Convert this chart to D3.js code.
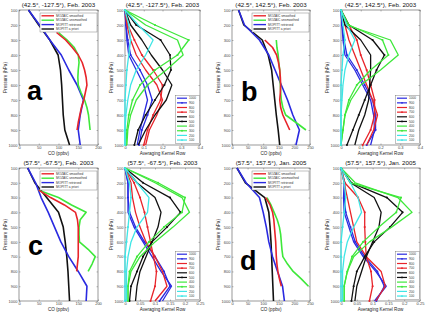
<!DOCTYPE html>
<html><head><meta charset="utf-8">
<script src="https://cdn.jsdelivr.net/npm/d3@7"></script>
<style>html,body{margin:0;padding:0;background:#fff;} svg{display:block;}</style>
</head><body><svg id="chart" width="427" height="317"></svg>
<script>
// ---------------- DATA ----------------
const pressureLevels = [100, 200, 300, 400, 500, 600, 700, 800, 900, 1000];
const titles = ["(42.5°, -127.5°), Feb. 2003", "(42.5°, 142.5°), Feb. 2003", "(57.5°, -67.5°), Feb. 2003", "(57.5°, 157.5°), Jan. 2005"];
const panelLetters = ["a", "b", "c", "d"];
const coLegendLabels = ["MOZAIC smoothed", "MOZAIC unsmoothed", "MOPITT retrieved", "MOPITT a priori"];
const akRowLabels = ["1000", "900", "800", "700", "600", "500", "400", "300", "200", "100"];
const coTicks200 = [0, 50, 100, 150, 200];
const coTicks250 = [0, 50, 100, 150, 200, 250];
const akTicks04 = [0, 0.1, 0.2, 0.3, 0.4];
const akTicks025 = [0, 0.05, 0.1, 0.15, 0.2, 0.25];

// Panel a CO (ppbv)
const aprioriA   = [24, 50, 78, 99, 105, 108, 110, 112, 116, 128];
const retrievedA = [24, 52, 78, 107, 126, 147, 163, 155, 150, 155];
const mozPresA   = [250, 300, 350, 400, 450, 500, 550, 600, 650, 700, 750, 800, 850, 900];
const smoothedA  = [95, 118, 135, 150, 160, 166, 170, 172, 168, 164, 158, 154, 150, 147];
const unsmoothedA= [100, 122, 140, 150, 152, 150, 149, 150, 157, 166, 172, 176, 178, 180];
// Panel b CO
const aprioriB   = [21, 38, 97, 116, 127, 132, 137, 142, 148, 153];
const retrievedB = [21, 40, 88, 118, 138, 158, 178, 195, 216, 205];
const mozPresB   = [300, 350, 400, 450, 500, 550, 600, 650, 700, 750, 800, 850, 900];
const smoothedB  = [105, 130, 143, 149, 153, 155, 156, 155, 153, 156, 163, 174, 185];
const unsmoothedB= [142, 144, 148, 150, 153, 154, 155, 156, 158, 163, 172, 205, 237];
// Panel c CO
const aprioriC   = [22, 40, 70, 100, 112, 117, 121, 124, 126, 128];
const retrievedC = [22, 42, 56, 74, 90, 106, 126, 150, 172, 170];
const mozPresC   = [250, 300, 350, 400, 450, 500, 550, 600, 650, 700, 750, 800];
const smoothedC  = [50, 80, 115, 143, 148, 150, 150, 150, 150, 150, 148, 146];
const unsmoothedC= [50, 100, 133, 170, 155, 152, 152, 153, 175, 193, 185, 175];
// Panel d CO
const aprioriD   = [16, 43, 105, 118, 122, 125, 127, 129, 131, 133];
const retrievedD = [16, 45, 88, 100, 110, 118, 130, 146, 162, 168];
const mozPresD   = [300, 350, 400, 450, 500, 550, 600, 650, 700, 750, 800, 850, 900];
const smoothedD  = [108, 122, 130, 134, 136, 138, 140, 141, 142, 144, 147, 152, 158];
const unsmoothedD= [112, 125, 135, 145, 152, 156, 158, 160, 163, 178, 196, 222, 245];

// Averaging kernel rows (values at pressureLevels), row order = akRowLabels
const akA = [
  [0, 0.005, 0.01, 0.02, 0.06, 0.10, 0.12, 0.10, 0.08, 0.065],
  [0, 0.005, 0.015, 0.03, 0.08, 0.12, 0.145, 0.12, 0.09, 0.075],
  [0, 0.01, 0.03, 0.06, 0.11, 0.17, 0.20, 0.17, 0.13, 0.11],
  [0, 0.015, 0.05, 0.09, 0.15, 0.20, 0.19, 0.15, 0.12, 0.10],
  [0, 0.03, 0.09, 0.14, 0.20, 0.25, 0.22, 0.16, 0.11, 0.07],
  [0, 0.06, 0.19, 0.24, 0.245, 0.21, 0.16, 0.11, 0.07, 0.05],
  [0, 0.11, 0.28, 0.31, 0.22, 0.12, 0.06, 0.03, 0.015, 0.01],
  [0, 0.16, 0.34, 0.28, 0.16, 0.08, 0.04, 0.02, 0.01, 0.005],
  [0, 0.07, 0.15, 0.11, 0.06, 0.03, 0.015, 0.005, 0, 0],
  [0, 0.02, 0.03, 0.02, 0.01, 0.005, 0, 0, 0, 0]
];
const akB = [
  [0, 0.005, 0.01, 0.02, 0.07, 0.11, 0.15, 0.165, 0.17, 0.15],
  [0, 0.005, 0.015, 0.03, 0.08, 0.12, 0.16, 0.175, 0.175, 0.13],
  [0, 0.02, 0.04, 0.07, 0.10, 0.13, 0.16, 0.185, 0.165, 0.13],
  [0, 0.04, 0.08, 0.10, 0.13, 0.15, 0.17, 0.17, 0.15, 0.11],
  [0, 0.02, 0.10, 0.15, 0.15, 0.145, 0.14, 0.12, 0.09, 0.07],
  [0, 0.04, 0.16, 0.22, 0.18, 0.15, 0.12, 0.09, 0.06, 0.03],
  [0, 0.03, 0.25, 0.29, 0.20, 0.10, 0.05, 0.02, 0.01, 0],
  [0, 0.04, 0.21, 0.24, 0.15, 0.08, 0.04, 0.02, 0.01, 0],
  [0, 0.03, 0.07, 0.04, 0.02, 0.01, 0.005, 0, 0, 0],
  [0, 0.01, 0.02, 0.01, 0.005, 0, 0, 0, 0, 0]
];
const akC = [
  [0, 0.01, 0.01, 0.01, 0.03, 0.06, 0.09, 0.12, 0.155, 0.125],
  [0, 0.01, 0.01, 0.015, 0.035, 0.065, 0.10, 0.13, 0.15, 0.115],
  [0, 0.02, 0.025, 0.035, 0.05, 0.07, 0.10, 0.125, 0.14, 0.10],
  [0, 0.03, 0.05, 0.065, 0.075, 0.085, 0.095, 0.105, 0.10, 0.085],
  [0, 0.04, 0.10, 0.12, 0.11, 0.09, 0.07, 0.05, 0.04, 0.035],
  [0, 0.06, 0.15, 0.185, 0.14, 0.09, 0.06, 0.04, 0.02, 0.015],
  [0, 0.10, 0.19, 0.215, 0.16, 0.10, 0.05, 0.02, 0.01, 0.01],
  [0, 0.11, 0.20, 0.19, 0.13, 0.08, 0.04, 0.015, 0.01, 0.01],
  [0, 0.04, 0.08, 0.075, 0.04, 0.02, 0.01, 0.005, 0.005, 0.005],
  [0, 0.015, 0.02, 0.015, 0.01, 0.005, 0, 0, 0, 0]
];
const akD = [
  [0, 0.01, 0.008, 0.01, 0.025, 0.04, 0.07, 0.11, 0.143, 0.106],
  [0, 0.012, 0.01, 0.015, 0.03, 0.045, 0.075, 0.115, 0.137, 0.112],
  [0, 0.01, 0.02, 0.03, 0.04, 0.05, 0.08, 0.127, 0.14, 0.11],
  [0, 0.012, 0.054, 0.075, 0.075, 0.077, 0.08, 0.095, 0.10, 0.09],
  [0, 0.03, 0.105, 0.127, 0.12, 0.10, 0.08, 0.065, 0.05, 0.044],
  [0, 0.033, 0.145, 0.195, 0.155, 0.105, 0.075, 0.05, 0.04, 0.033],
  [0, 0.045, 0.18, 0.225, 0.16, 0.09, 0.04, 0.02, 0.01, 0.01],
  [0, 0.03, 0.19, 0.175, 0.12, 0.07, 0.035, 0.02, 0.01, 0.01],
  [0, 0.03, 0.054, 0.065, 0.04, 0.02, 0.01, 0.005, 0.005, 0.005],
  [0, 0.01, 0.015, 0.01, 0.005, 0, 0, 0, 0, 0]
];

// ---------------- STYLE / LAYOUT ----------------
const FONT = "'Liberation Sans', Arial, Helvetica, sans-serif";
const RED = "#e8242a", GREEN = "#3ee83a", BLUE = "#2a2ae0", BLACK = "#111", CYAN = "#3ee6e6";
const coColors = [RED, GREEN, BLUE, BLACK];
const akColors = [BLUE, BLUE, RED, RED, BLACK, BLACK, GREEN, GREEN, CYAN, CYAN];
const akMarked = [false, true, false, true, false, true, false, true, false, true];
const rows = [{ y0: 10, y1: 145 }, { y0: 168, y1: 301 }];
const cols = [{ co: [19, 98], ak: [125, 200] }, { co: [232, 310], ak: [341, 420] }];
const letterPos = [[27, 100], [241, 101], [28, 255], [240, 270]];

const svg = d3.select("#chart").attr("font-family", FONT);

function frame(x0, x1, y0, y1, xDomain, xTicks, title, xLabel) {
  const g = svg.append("g");
  const xs = d3.scaleLinear().domain(xDomain).range([x0, x1]);
  const ys = d3.scaleLinear().domain([100, 1000]).range([y0, y1]);
  const style = s => {
    s.attr("font-size", null).attr("font-family", null);
    s.select(".domain").remove();
    s.selectAll("line").attr("stroke", "#777").attr("stroke-width", 0.5);
    s.selectAll("text").attr("font-size", 4).attr("fill", "#444");
  };
  g.append("g").attr("transform", `translate(0,${y1})`)
    .call(d3.axisBottom(xs).tickValues(xTicks).tickFormat(d3.format("~g")).tickSizeInner(-1.5).tickSizeOuter(0).tickPadding(1.6)).call(style);
  g.append("g").attr("transform", `translate(0,${y0})`)
    .call(d3.axisTop(xs).tickValues(xTicks).tickFormat("").tickSizeInner(-1.5).tickSizeOuter(0)).call(style);
  g.append("g").attr("transform", `translate(${x0},0)`)
    .call(d3.axisLeft(ys).tickValues(pressureLevels).tickFormat(d3.format("d")).tickSizeInner(-1.5).tickSizeOuter(0).tickPadding(1.6)).call(style);
  g.append("g").attr("transform", `translate(${x1},0)`)
    .call(d3.axisRight(ys).tickValues(pressureLevels).tickFormat("").tickSizeInner(-1.5).tickSizeOuter(0)).call(style);
  g.append("rect").attr("x", x0).attr("y", y0).attr("width", x1 - x0).attr("height", y1 - y0)
    .attr("fill", "none").attr("stroke", "#555").attr("stroke-width", 0.6);
  g.append("text").attr("x", (x0 + x1) / 2).attr("y", y0 - 3).attr("text-anchor", "middle")
    .attr("font-size", 6.2).attr("fill", "#111").text(title);
  g.append("text").attr("x", (x0 + x1) / 2).attr("y", y1 + 9.8).attr("text-anchor", "middle")
    .attr("font-size", 4.6).attr("fill", "#222").text(xLabel);
  g.append("text").attr("transform", `translate(${x0 - 12.5},${(y0 + y1) / 2}) rotate(-90)`)
    .attr("text-anchor", "middle").attr("font-size", 4.6).attr("fill", "#222").text("Pressure (hPa)");
  return { g, xs, ys };
}

function drawCO(idx, col, row, xDomain, xTicks, apriori, retrieved, mozPres, smoothed, unsmoothed) {
  const [x0, x1] = col.co, { y0, y1 } = row;
  const { g, xs, ys } = frame(x0, x1, y0, y1, xDomain, xTicks, titles[idx], "CO (ppbv)");
  const line = d3.line().x(d => xs(d[0])).y(d => ys(d[1]));
  const series = [
    { v: apriori, p: pressureLevels, c: BLACK },
    { v: retrieved, p: pressureLevels, c: BLUE },
    { v: unsmoothed, p: mozPres, c: GREEN },
    { v: smoothed, p: mozPres, c: RED }
  ];
  series.forEach(s => {
    g.append("path").datum(s.v.map((v, i) => [v, s.p[i]])).attr("d", line)
      .attr("fill", "none").attr("stroke", s.c).attr("stroke-width", 1.6).attr("stroke-linejoin", "round");
  });
  const lx = x1 - 58, ly = y0 + 3, lw = 57, lh = 19;
  const lg = g.append("g");
  lg.append("rect").attr("x", lx).attr("y", ly).attr("width", lw).attr("height", lh)
    .attr("fill", "#fff").attr("stroke", "#666").attr("stroke-width", 0.4);
  coLegendLabels.forEach((lab, i) => {
    const yy = ly + 2.8 + i * 4.4;
    lg.append("line").attr("x1", lx + 1.5).attr("x2", lx + 14).attr("y1", yy).attr("y2", yy)
      .attr("stroke", coColors[i]).attr("stroke-width", 1.4);
    lg.append("text").attr("x", lx + 16).attr("y", yy + 1.1).attr("font-size", 3.2).attr("fill", "#333").text(lab);
  });
  const lp = letterPos[idx];
  g.append("text").attr("x", lp[0]).attr("y", lp[1]).attr("font-size", 27).attr("font-weight", "bold")
    .attr("fill", "#000").text(panelLetters[idx]);
}

function drawAK(idx, col, row, xDomain, xTicks, rowsData) {
  const [x0, x1] = col.ak, { y0, y1 } = row;
  const { g, xs, ys } = frame(x0, x1, y0, y1, xDomain, xTicks, titles[idx], "Averaging Kernel Row");
  const line = d3.line().x(d => xs(d[0])).y(d => ys(d[1]));
  rowsData.forEach((r, k) => {
    const pts = r.map((v, i) => [v, pressureLevels[i]]);
    g.append("path").datum(pts).attr("d", line).attr("fill", "none")
      .attr("stroke", akColors[k]).attr("stroke-width", 1.3).attr("stroke-linejoin", "round");
    if (akMarked[k]) {
      g.selectAll(null).data(pts).enter().append("circle")
        .attr("cx", d => xs(d[0])).attr("cy", d => ys(d[1])).attr("r", 1.05).attr("fill", akColors[k]);
    }
  });
  const lw = 24, lh = 48, lx = x1 - lw - 0.5, ly = y1 - lh - 1.5;
  const lg = g.append("g");
  lg.append("rect").attr("x", lx).attr("y", ly).attr("width", lw).attr("height", lh)
    .attr("fill", "#fff").attr("stroke", "#666").attr("stroke-width", 0.4);
  akRowLabels.forEach((lab, k) => {
    const yy = ly + 2.7 + k * 4.65;
    lg.append("line").attr("x1", lx + 1.5).attr("x2", lx + 11.5).attr("y1", yy).attr("y2", yy)
      .attr("stroke", akColors[k]).attr("stroke-width", 1.2);
    if (akMarked[k]) lg.append("circle").attr("cx", lx + 6.5).attr("cy", yy).attr("r", 0.9).attr("fill", akColors[k]);
    lg.append("text").attr("x", lx + 13.5).attr("y", yy + 1.1).attr("font-size", 3.1).attr("fill", "#333").text(lab);
  });
}

drawCO(0, cols[0], rows[0], [0, 200], coTicks200, aprioriA, retrievedA, mozPresA, smoothedA, unsmoothedA);
drawAK(0, cols[0], rows[0], [0, 0.4], akTicks04, akA);
drawCO(1, cols[1], rows[0], [0, 250], coTicks250, aprioriB, retrievedB, mozPresB, smoothedB, unsmoothedB);
drawAK(1, cols[1], rows[0], [0, 0.4], akTicks04, akB);
drawCO(2, cols[0], rows[1], [0, 200], coTicks200, aprioriC, retrievedC, mozPresC, smoothedC, unsmoothedC);
drawAK(2, cols[0], rows[1], [0, 0.25], akTicks025, akC);
drawCO(3, cols[1], rows[1], [0, 250], coTicks250, aprioriD, retrievedD, mozPresD, smoothedD, unsmoothedD);
drawAK(3, cols[1], rows[1], [0, 0.25], akTicks025, akD);
</script></body></html>
